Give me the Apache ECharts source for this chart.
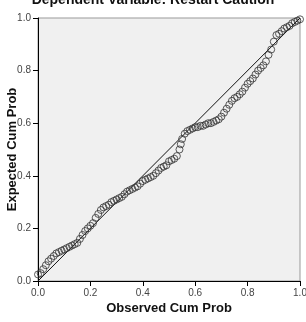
<!DOCTYPE html>
<html><head><meta charset="utf-8">
<script src="https://cdn.jsdelivr.net/npm/echarts@6/dist/echarts.min.js"></script>
<style>html,body{margin:0;padding:0;background:#fff}#c{width:306px;height:322px}</style>
</head><body><div id="c"></div>
<script>
const titleText = 'Dependent Variable: Restart Caution';
const xAxisName = 'Observed Cum Prob';
const yAxisName = 'Expected Cum Prob';
const observed = [0.00,0.01,0.02,0.03,0.04,0.05,0.06,0.07,0.08,0.09,0.10,0.11,0.12,0.13,0.14,0.15,0.16,0.17,0.18,0.19,0.20,0.21,0.22,0.23,0.24,0.25,0.26,0.27,0.28,0.29,0.30,0.31,0.32,0.33,0.34,0.35,0.36,0.37,0.38,0.39,0.40,0.41,0.42,0.43,0.44,0.45,0.46,0.47,0.48,0.49,0.50,0.51,0.52,0.53,0.54,0.545,0.55,0.56,0.57,0.58,0.59,0.60,0.61,0.62,0.63,0.64,0.65,0.66,0.67,0.68,0.69,0.70,0.71,0.72,0.73,0.74,0.75,0.76,0.77,0.78,0.79,0.80,0.81,0.82,0.83,0.84,0.85,0.86,0.87,0.88,0.89,0.90,0.91,0.92,0.93,0.94,0.95,0.96,0.97,0.98,0.99,1.00];
const expected = [0.025,0.03,0.045,0.06,0.075,0.085,0.095,0.105,0.11,0.115,0.12,0.125,0.13,0.135,0.14,0.145,0.16,0.175,0.19,0.20,0.21,0.22,0.24,0.255,0.27,0.28,0.285,0.29,0.30,0.305,0.31,0.315,0.32,0.33,0.34,0.345,0.35,0.355,0.36,0.37,0.38,0.385,0.39,0.395,0.40,0.41,0.42,0.43,0.435,0.44,0.455,0.46,0.465,0.475,0.50,0.52,0.54,0.56,0.57,0.575,0.58,0.585,0.585,0.59,0.59,0.595,0.60,0.60,0.605,0.61,0.615,0.625,0.64,0.655,0.67,0.685,0.695,0.70,0.71,0.72,0.735,0.75,0.76,0.77,0.785,0.80,0.81,0.82,0.835,0.86,0.88,0.91,0.935,0.94,0.95,0.96,0.965,0.97,0.98,0.985,0.99,0.995];
const diagonal = [[0,0],[1,1]];
const tickLabels = ['0.0','0.2','0.4','0.6','0.8','1.0'];

const pts = observed.map((x,i)=>[x, expected[i]]);
const chart = echarts.init(document.getElementById('c'), null, {renderer:'canvas'});
const axisCommon = {
  type:'value', min:0, max:1, interval:0.2,
  axisLine:{show:true, lineStyle:{color:'#000', width:1}},
  axisTick:{show:true, inside:false, length:5, lineStyle:{color:'#000'}},
  axisLabel:{fontFamily:'Arial, Liberation Sans', fontSize:10, color:'#444', margin:7,
    formatter:(v)=>tickLabels[Math.round(v/0.2)]},
  splitLine:{show:false},
  nameLocation:'middle',
  nameMoveOverlap:false,
  nameTextStyle:{fontFamily:'Arial, Liberation Sans', fontWeight:'bold', fontSize:13, color:'#111'}
};
chart.setOption({
  animation:false,
  backgroundColor:'#fff',
  title:{text:titleText, left:'center', top:-12,
    textStyle:{fontFamily:'Arial, Liberation Sans', fontWeight:'bold', fontSize:14, color:'#111'}},
  grid:{left:38, right:6, top:18, bottom:41, show:true, backgroundColor:'#f0f0f0', borderColor:'#999', borderWidth:1,
    containLabel:false, outerBoundsMode:'none'},
  xAxis:Object.assign({}, axisCommon, {name:xAxisName, nameGap:21}),
  yAxis:Object.assign({}, axisCommon, {name:yAxisName, nameGap:19}),
  series:[
    {type:'line', data:diagonal, symbol:'none', lineStyle:{color:'#111', width:1}, silent:true, z:2},
    {type:'scatter', data:pts, symbol:'circle', symbolSize:7,
     itemStyle:{color:'rgba(0,0,0,0)', borderColor:'#333', borderWidth:1}, z:3}
  ]
});
</script></body></html>
